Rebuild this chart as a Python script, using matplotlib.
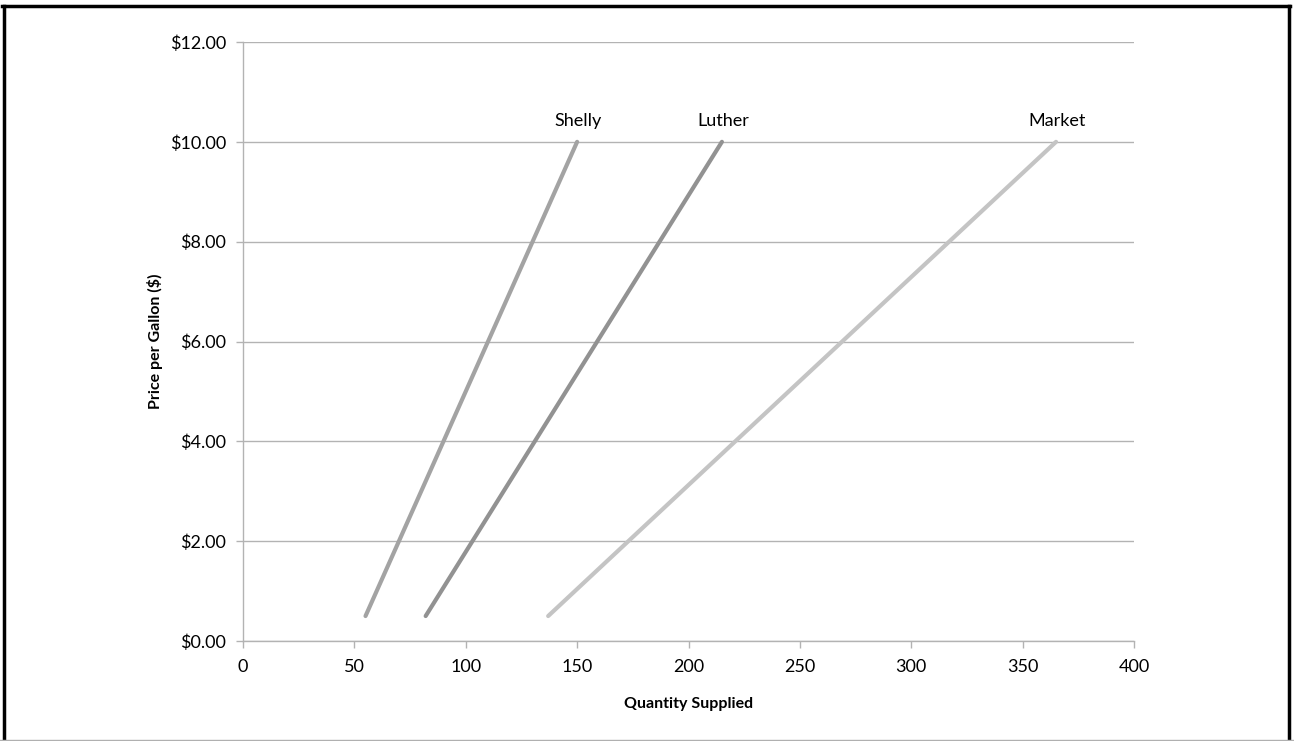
import matplotlib
matplotlib.use("Agg")
import matplotlib.pyplot as plt
from matplotlib.lines import Line2D

plt.rcParams['font.family'] = ['Lato', 'DejaVu Sans']

price = [0.5, 10.0]
shelly = [55, 150]
luther = [82, 215]
market = [137, 365]
series_names = ["Shelly", "Luther", "Market"]
series_vals = [shelly, luther, market]
series_colors = ["#a3a3a3", "#929292", "#c4c4c4"]
yticks = [0, 2, 4, 6, 8, 10, 12]
xticks = [0, 50, 100, 150, 200, 250, 300, 350, 400]

fig = plt.figure(figsize=(12.94, 7.41), dpi=100)
ax = fig.add_axes([243/1294, 1-641/741, (1134-243)/1294, (641-42)/741])

for name, vals, c in zip(series_names, series_vals, series_colors):
    ax.plot(vals, price, color=c, lw=3.0, solid_capstyle='round', zorder=3)
    ax.annotate(name, (vals[-1], price[-1]), xytext=(1, 9), textcoords='offset points',
                ha='center', va='bottom', fontsize=13)

ax.set_xlim(0, 400)
ax.set_ylim(0, 12)
ax.set_xticks(xticks)
ax.set_yticks(yticks)
ax.set_yticklabels([f"${v:.2f}" for v in yticks])
ax.grid(axis='y', color='#b3b3b3', lw=1)
ax.set_axisbelow(True)
for s in ['top', 'right']:
    ax.spines[s].set_visible(False)
for s in ['left', 'bottom']:
    ax.spines[s].set_color('#b3b3b3')
    ax.spines[s].set_linewidth(1)
ax.tick_params(axis='both', colors='#b3b3b3', labelcolor='black', labelsize=13, length=5, width=1)
ax.tick_params(axis='x', pad=8)
ax.tick_params(axis='y', pad=7)
ax.set_xlabel("Quantity Supplied", fontsize=11.5, fontweight='bold', labelpad=16)
ax.set_ylabel("Price per Gallon ($)", fontsize=11.5, fontweight='bold', labelpad=5)

W, H = 1294, 741
def fx(px):
    return px / W
def fy(py):
    return 1 - py / H
# frame: black left, top, right; light gray bottom
fig.add_artist(Line2D([fx(3.5), fx(3.5)], [fy(6), fy(741)], color='black', lw=2.5, transform=fig.transFigure))
fig.add_artist(Line2D([fx(2.3), fx(1290)], [fy(6), fy(6)], color='black', lw=2.5, transform=fig.transFigure))
fig.add_artist(Line2D([fx(1288.5), fx(1288.5)], [fy(6), fy(741)], color='black', lw=2.5, transform=fig.transFigure))
fig.add_artist(Line2D([fx(0), fx(1294)], [fy(740), fy(740)], color='#b0b0b0', lw=1, transform=fig.transFigure))

fig.savefig("out.png", dpi=100)
